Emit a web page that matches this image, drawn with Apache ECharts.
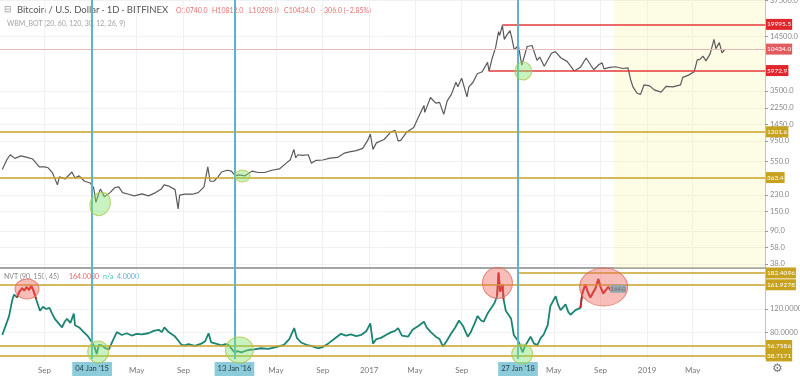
<!DOCTYPE html>
<html>
<head>
<meta charset="utf-8">
<script src="https://cdn.jsdelivr.net/npm/echarts@6/dist/echarts.min.js"></script>
<style>
  html, body { margin: 0; padding: 0; background: #fff; }
  #chart { width: 800px; height: 376px; }
</style>
</head>
<body>
<div id="chart"></div>
<script>
// BTC/USD daily (Bitfinex)
const priceDates = [
  '2014-05-13','2014-05-25','2014-06-03','2014-06-15','2014-07-01','2014-07-15','2014-08-01','2014-08-18','2014-09-01','2014-09-10','2014-09-22','2014-10-05','2014-10-10','2014-10-25','2014-11-12','2014-11-20','2014-12-01','2014-12-15','2014-12-30',
  '2015-01-08','2015-01-14','2015-01-20','2015-01-26','2015-02-05','2015-02-20','2015-03-05','2015-03-15','2015-03-25','2015-04-10','2015-04-25','2015-05-15','2015-06-01','2015-06-20','2015-07-05','2015-07-12','2015-07-25','2015-08-10','2015-08-18','2015-08-22','2015-09-05','2015-09-25','2015-10-10','2015-10-25','2015-11-04','2015-11-10','2015-11-20','2015-12-01','2015-12-10','2015-12-25',
  '2016-01-05','2016-01-15','2016-01-25','2016-02-10','2016-02-28','2016-03-15','2016-04-01','2016-04-20','2016-05-10','2016-05-28','2016-06-08','2016-06-17','2016-06-22','2016-06-28','2016-07-10','2016-07-25','2016-08-02','2016-08-15','2016-09-01','2016-09-20','2016-10-10','2016-10-28','2016-11-10','2016-11-28','2016-12-15','2016-12-28',
  '2017-01-04','2017-01-11','2017-01-20','2017-02-10','2017-02-25','2017-03-10','2017-03-18','2017-03-25','2017-04-10','2017-04-28','2017-05-10','2017-05-25','2017-05-27','2017-06-11','2017-06-25','2017-07-05','2017-07-16','2017-07-25','2017-08-05','2017-08-17','2017-08-22','2017-09-01','2017-09-15','2017-09-20','2017-10-01','2017-10-12','2017-10-25','2017-11-08','2017-11-12','2017-11-20','2017-11-29','2017-12-07','2017-12-10','2017-12-17','2017-12-22','2017-12-28',
  '2018-01-06','2018-01-10','2018-01-17','2018-01-28','2018-02-06','2018-02-20','2018-03-05','2018-03-18','2018-03-25','2018-04-06','2018-04-25','2018-05-05','2018-05-20','2018-06-05','2018-06-24','2018-07-10','2018-07-25','2018-08-14','2018-08-28','2018-09-05','2018-09-10','2018-09-25','2018-10-10','2018-10-30','2018-11-12','2018-11-19','2018-11-25','2018-12-06','2018-12-15','2018-12-24',
  '2019-01-08','2019-01-20','2019-02-07','2019-02-20','2019-03-10','2019-03-30','2019-04-05','2019-04-20','2019-05-05','2019-05-13','2019-05-20','2019-05-28','2019-06-05','2019-06-16','2019-06-26','2019-07-01','2019-07-10','2019-07-17','2019-07-25'
];
const priceValues = [
  450,580,660,600,640,620,590,480,480,470,410,300,370,350,420,360,380,330,315,
  280,190,230,270,220,245,280,285,245,235,225,237,225,245,270,300,290,265,160,230,235,235,245,285,480,330,330,370,420,440,
  430,380,390,380,430,415,415,440,455,530,580,760,610,660,650,660,530,570,575,605,615,690,710,735,780,960,
  1130,760,900,990,1180,1250,950,960,1200,1350,1750,2400,2000,2950,2550,2600,1900,2700,3200,4400,3900,4900,3000,3900,4400,5500,5800,7400,5900,8200,10800,16500,15000,19500,13500,15000,
  17000,14500,10300,11500,6900,11200,11500,7800,8500,6700,9400,9800,8300,7600,5900,6500,8300,6100,7000,7300,6250,6500,6600,6300,6400,4700,3900,3300,3200,4100,
  4000,3600,3400,3950,3900,4100,5000,5300,5800,7900,8000,8700,7700,9300,13500,10600,12400,9500,10434
];

// NVT (90, 150, 45)
const nvtDates = [
  '2014-05-13','2014-05-24','2014-05-31','2014-06-08','2014-06-13','2014-06-21','2014-06-27','2014-07-04','2014-07-10','2014-07-16','2014-07-22','2014-07-28','2014-08-04','2014-08-10','2014-08-20','2014-08-28','2014-09-05','2014-09-14','2014-09-21','2014-09-28','2014-10-08','2014-10-17','2014-10-24','2014-10-30','2014-11-08','2014-11-17','2014-11-20','2014-12-01','2014-12-13','2014-12-25',
  '2015-01-03','2015-01-10','2015-01-16','2015-01-22','2015-01-29','2015-02-08','2015-02-17','2015-02-28','2015-03-10','2015-03-23','2015-04-05','2015-04-18','2015-05-01','2015-05-14','2015-06-01','2015-06-15','2015-06-28','2015-07-06','2015-07-13','2015-07-24','2015-08-09','2015-08-27','2015-09-05','2015-09-14','2015-10-01','2015-10-18','2015-10-28','2015-11-06','2015-11-13','2015-11-25','2015-12-10','2015-12-20','2015-12-28',
  '2016-01-13','2016-01-22','2016-01-31','2016-02-18','2016-03-05','2016-03-23','2016-04-11','2016-05-01','2016-05-22','2016-06-05','2016-06-18','2016-06-25','2016-07-06','2016-07-20','2016-08-01','2016-08-19','2016-09-01','2016-09-15','2016-10-01','2016-10-19','2016-11-01','2016-11-14','2016-11-28','2016-12-11','2016-12-25',
  '2017-01-04','2017-01-11','2017-01-20','2017-02-01','2017-02-14','2017-02-28','2017-03-10','2017-03-18','2017-03-28','2017-04-13','2017-04-25','2017-05-09','2017-05-25','2017-06-01','2017-06-12','2017-06-25','2017-07-05','2017-07-14','2017-07-24','2017-08-04','2017-08-15','2017-08-25','2017-09-05','2017-09-17','2017-09-25','2017-10-05','2017-10-13','2017-10-22','2017-10-29','2017-11-08','2017-11-16','2017-11-26','2017-12-03','2017-12-07','2017-12-11','2017-12-18','2017-12-20','2017-12-26',
  '2018-01-02','2018-01-09','2018-01-16','2018-01-29','2018-02-08','2018-02-14','2018-02-21','2018-03-01','2018-03-10','2018-03-19','2018-03-28','2018-04-04','2018-04-15','2018-04-22','2018-05-06','2018-05-12','2018-05-19','2018-06-01','2018-06-08','2018-06-14','2018-06-27','2018-07-10','2018-07-15','2018-07-23','2018-07-29','2018-08-05','2018-08-18','2018-08-26','2018-09-01','2018-09-08','2018-09-21','2018-09-28','2018-10-04'
];
const nvtValues = [
  75,95,108,135,145,140,150,156,152,158,153,160,150,137,117,124,120,122,112,103,95,88,98,103,96,112,92,88,80,72,
  63,55,42,58,57,52,50,66,80,75,78,74,77,76,78,82,84,80,88,80,73,58,57,59,56,60,64,78,62,60,57,59,58,
  45,47,45,49,50,52,51,54,58,68,87,70,62,58,56,52,54,60,68,77,74,76,73,75,82,
  95,60,68,70,75,80,82,87,74,72,84,90,98,88,80,72,68,55,65,77,88,100,90,72,80,95,108,100,98,112,120,130,142,183,150,162,137,117,
  110,103,75,63,45,55,63,72,60,58,70,75,92,125,142,128,118,128,115,110,118,122,147,163,150,140,155,172,158,147,158,152,155
];
const nvtHot = 146;          // NVT drawn red above this
const nvtLastLabel = '164.0';

// axis ticks
const xTickDates = ['2014-09-01','2015-05-01','2015-09-01','2016-05-01','2016-09-01','2017-01-01','2017-05-01','2017-09-01','2018-05-01','2018-09-01','2019-01-01','2019-05-01'];
const xTickLabels = ['Sep','May','Sep','May','Sep','2017','May','Sep','May','Sep','2019','May'];
const priceTicks = [37500, 14500, 3500, 2250, 1450, 950, 550, 230, 150, 90, 58, 38];
const priceTickLabels = ['37500.0','14500.0','3500.0','2250.0','1450.0','950.0','550.0','230.0','150.0','90.0','58.0','38.0'];
const nvtTicks = [80, 120];
const nvtTickLabels = ['80.0000','120.0000'];

// drawn levels
const redLevels = [19995.5, 5972.9];
const redLevelStarts = ['2017-12-17', '2017-11-11'];
const lastPrice = 10434.0;
const goldLevels = [1201.6, 363.4];
const nvtLevels = [182.4096, 161.9278, 56.7586, 38.7171];
const nvtLevelStarts = ['2018-01-27', null, null, null];
const eventDates = ['2015-01-04', '2016-01-13', '2018-01-27'];
const eventLabels = ["04 Jan '15", "13 Jan '16", "27 Jan '18"];
const forecastStart = '2018-10-07';

// circled spots
const greenTop = [['2015-01-25', 182], ['2016-02-03', 378], ['2018-02-10', 5907]];
const greenBottom = [['2015-01-20', 45.6], ['2016-01-26', 49], ['2018-02-07', 42]];
const redBottom = [['2014-07-17', 154.6], ['2017-12-04', 165], ['2018-09-09', 158]];
const greenTopSize = [[20, 24, -25], [15, 12, 0], [17, 18, 0]];
const greenBottomSize = [[21, 22, 0], [28, 26, 0], [21, 20, 0]];
const redBottomSize = [[24, 20, 0], [30, 31, 0], [48, 38, 0]];

const ts = s => new Date(s + 'T00:00:00').getTime();
const lg = v => Math.log10(v);
const xMin = ts('2014-05-07');
const xMax = ts('2019-11-07');
const font = 'Lato, "Noto Sans", sans-serif';
const gold = '#c9a227';
const red = '#e23a3a';
const blue = '#5cb4cc';

function pick(vals, labels, v) {
  const i = vals.findIndex(t => Math.abs(t - v) < 1e-6);
  return i < 0 ? '' : labels[i];
}

function level(value, text, color, bg, start, logScale) {
  const y = logScale ? lg(value) : value;
  const lineStyle = { color: color, width: 1.5, type: 'solid' };
  const label = {
    show: true, position: 'end', formatter: text, distance: 1,
    backgroundColor: bg, color: '#fff', fontSize: 6.5, fontFamily: font, padding: [2, 1]
  };
  if (start) return [{ coord: [ts(start), y], lineStyle: lineStyle, label: label }, { coord: [xMax, y] }];
  return { yAxis: y, lineStyle: lineStyle, label: label };
}

function eventLine(d, text) {
  return {
    xAxis: ts(d),
    lineStyle: { color: blue, width: 2, type: 'solid' },
    label: text ? {
      show: true, position: 'start', formatter: text, distance: 3,
      backgroundColor: '#8ccbd9', color: '#1d3d48', fontSize: 7.5, fontFamily: font, padding: [3, 3]
    } : { show: false }
  };
}

function ellipses(points, sizes, fill, border, idx, logScale) {
  return {
    type: 'scatter', xAxisIndex: idx, yAxisIndex: idx, clip: false, silent: true, z: 5,
    data: points.map((p, i) => ({
      value: [ts(p[0]), logScale ? lg(p[1]) : p[1]],
      symbolSize: [sizes[i][0], sizes[i][1]],
      symbolRotate: sizes[i][2]
    })),
    symbol: 'circle',
    itemStyle: { color: fill, borderColor: border, borderWidth: 1 }
  };
}

const xTs = xTickDates.map(ts);
const priceTickLogs = priceTicks.map(lg);
const nvtData = nvtDates.map((d, i) => [ts(d), nvtValues[i]]);
// red overlay: only the stretches that touch a value above nvtHot
const nvtHotData = nvtDates.map((d, i) => {
  const hot = nvtValues[i] > nvtHot || nvtValues[i - 1] > nvtHot || nvtValues[i + 1] > nvtHot;
  return [ts(d), hot ? nvtValues[i] : null];
});
const nLast = nvtDates.length - 1;

const axisText = { fontSize: 7.5, color: '#888', fontFamily: font, showMinLabel: true, showMaxLabel: true, hideOverlap: false };

const chart = echarts.init(document.getElementById('chart'));

const option = {
  animation: false,
  backgroundColor: '#fff',
  grid: [
    { left: 0, right: 35, top: 0, height: 268, outerBoundsMode: 'none' },
    { left: 0, right: 35, top: 268, height: 91, outerBoundsMode: 'none' }
  ],
  xAxis: [
    {
      type: 'value', gridIndex: 0, min: xMin, max: xMax,
      axisLine: { show: true, onZero: false, lineStyle: { color: '#a6a6a6', width: 2 } },
      axisTick: { show: false, customValues: xTs },
      axisLabel: { show: false },
      splitLine: { show: true, lineStyle: { color: '#f0f1f3', width: 1 } }
    },
    {
      type: 'value', gridIndex: 1, min: xMin, max: xMax,
      axisLine: { show: false, onZero: false },
      axisTick: { show: false, customValues: xTs },
      axisLabel: {
        customValues: xTs, margin: 7, fontSize: 8, color: '#777', fontFamily: font,
        formatter: v => pick(xTs, xTickLabels, v)
      },
      splitLine: { show: true, lineStyle: { color: '#f0f1f3', width: 1 } }
    }
  ],
  yAxis: [
    {
      type: 'value', gridIndex: 0, position: 'right', min: 1.5326, max: 4.578,
      axisLine: { show: true, lineStyle: { color: '#c4c4c4' } },
      axisTick: { show: true, length: 3, customValues: priceTickLogs, lineStyle: { color: '#999' } },
      axisLabel: Object.assign({
        customValues: priceTickLogs, margin: 5,
        formatter: v => pick(priceTickLogs, priceTickLabels, v)
      }, axisText),
      splitLine: { show: true, lineStyle: { color: '#f0f1f3' } }
    },
    {
      type: 'value', gridIndex: 1, position: 'right', min: 33.4, max: 191,
      axisLine: { show: true, lineStyle: { color: '#c4c4c4' } },
      axisTick: { show: true, length: 3, customValues: nvtTicks, lineStyle: { color: '#999' } },
      axisLabel: Object.assign({
        customValues: nvtTicks, margin: 5,
        formatter: v => pick(nvtTicks, nvtTickLabels, v)
      }, axisText),
      splitLine: { show: true, lineStyle: { color: '#f0f1f3' } }
    }
  ],
  series: [
    {
      name: 'BTCUSD', type: 'line', xAxisIndex: 0, yAxisIndex: 0, z: 3,
      data: priceDates.map((d, i) => [ts(d), lg(priceValues[i])]),
      showSymbol: false, silent: true,
      lineStyle: { color: '#5a5a5a', width: 1.2 },
      markArea: {
        silent: true,
        itemStyle: { color: 'rgba(250,245,170,0.3)' },
        data: [[{ xAxis: ts(forecastStart) }, { xAxis: xMax }]]
      },
      markLine: {
        silent: true, symbol: 'none',
        data: [
          level(redLevels[0], '19995.5', red, '#e0262b', redLevelStarts[0], true),
          {
            yAxis: lg(lastPrice),
            lineStyle: { color: '#e8b7b7', width: 1, type: 'solid' },
            label: {
              show: true, position: 'end', formatter: lastPrice.toFixed(1), distance: 1,
              backgroundColor: '#e25b5f', color: '#fff', fontSize: 6.5, fontFamily: font, padding: [2, 1]
            }
          },
          level(redLevels[1], '5972.9', red, '#e0262b', redLevelStarts[1], true),
          level(goldLevels[0], '1201.6', gold, '#c7a21f', null, true),
          level(goldLevels[1], '363.4', gold, '#c7a21f', null, true),
          ...eventDates.map(d => eventLine(d, null))
        ]
      }
    },
    {
      name: 'NVT', type: 'line', xAxisIndex: 1, yAxisIndex: 1, z: 3,
      data: nvtData,
      showSymbol: false, silent: true,
      lineStyle: { color: '#1b8473', width: 1.8 },
      markLine: {
        silent: true, symbol: 'none',
        data: [
          ...nvtLevels.map((v, i) => level(v, v.toFixed(4), gold, '#c7a21f', nvtLevelStarts[i], false)),
          ...eventDates.map((d, i) => eventLine(d, eventLabels[i]))
        ]
      }
    },
    {
      name: 'NVT hot', type: 'line', xAxisIndex: 1, yAxisIndex: 1, z: 4,
      data: nvtHotData, connectNulls: false,
      showSymbol: false, silent: true,
      lineStyle: { color: '#e3191c', width: 1.8 },
      markPoint: {
        silent: true,
        symbol: 'rect', symbolSize: [16, 8], symbolOffset: [5, 0],
        itemStyle: { color: '#52d9ea' },
        label: { show: true, formatter: nvtLastLabel, fontSize: 6, color: '#1b6b75', fontFamily: font },
        data: [{ coord: nvtData[nLast] }]
      }
    },
    ellipses(greenTop, greenTopSize, 'rgba(130,225,110,0.55)', '#b3c64a', 0, true),
    ellipses(greenBottom, greenBottomSize, 'rgba(130,225,110,0.55)', '#b3c64a', 1, false),
    ellipses(redBottom, redBottomSize, 'rgba(238,105,95,0.55)', '#dd7060', 1, false)
  ],
  graphic: [
    { type: 'text', left: 4, top: 5, style: { text: '⊟', fill: '#999', fontSize: 9, fontFamily: font } },
    { type: 'text', left: 17, top: 5, style: { text: 'Bitcoin / U.S. Dollar · 1D · BITFINEX', fill: '#555', fontSize: 9.5, fontFamily: font } },
    { type: 'text', left: 176, top: 7, style: { text: 'O10740.0', fill: '#e57373', fontSize: 7, fontFamily: font } },
    { type: 'text', left: 212, top: 7, style: { text: 'H10812.0', fill: '#e57373', fontSize: 7, fontFamily: font } },
    { type: 'text', left: 249, top: 7, style: { text: 'L10298.0', fill: '#e57373', fontSize: 7, fontFamily: font } },
    { type: 'text', left: 284, top: 7, style: { text: 'C10434.0', fill: '#e57373', fontSize: 7, fontFamily: font } },
    { type: 'text', left: 320, top: 7, style: { text: '−306.0 (−2.85%)', fill: '#e57373', fontSize: 7, fontFamily: font } },
    { type: 'text', left: 7, top: 20, style: { text: 'WBM_BOT (20, 60, 120, 30, 12, 26, 9)', fill: '#a3a3a3', fontSize: 7, fontFamily: font } },
    { type: 'text', left: 4, top: 273, style: { text: 'NVT (90, 150, 45)', fill: '#888', fontSize: 7, fontFamily: font } },
    { type: 'text', left: 69, top: 273, style: { text: '164.0030', fill: '#e06a6a', fontSize: 7, fontFamily: font } },
    { type: 'text', left: 103, top: 273, style: { text: 'n/a', fill: '#45c2ad', fontSize: 7, fontFamily: font } },
    { type: 'text', left: 117, top: 273, style: { text: '4.0000', fill: '#5aaed6', fontSize: 7, fontFamily: font } },
    { type: 'text', left: 772, top: 363, style: { text: '⚙', fill: '#777', fontSize: 12, fontFamily: 'DejaVu Sans' } }
  ]
};

chart.setOption(option);
</script>
</body>
</html>
